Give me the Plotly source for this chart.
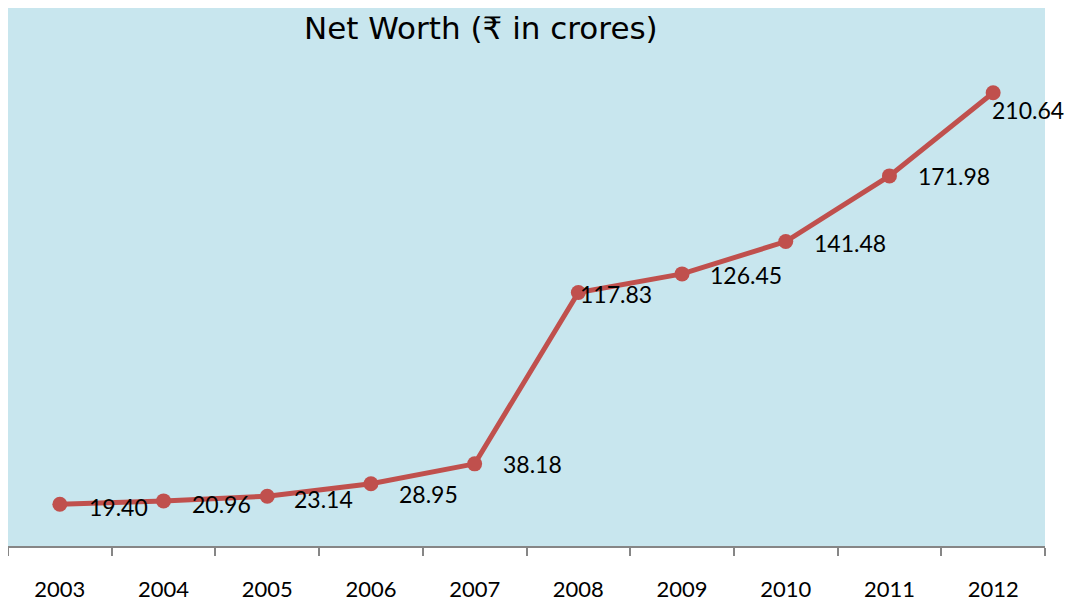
import plotly.graph_objects as go

years = ["2003", "2004", "2005", "2006", "2007", "2008", "2009", "2010", "2011", "2012"]
net_worth = [19.40, 20.96, 23.14, 28.95, 38.18, 117.83, 126.45, 141.48, 171.98, 210.64]

# label offsets (px) relative to each point, to mimic the original placement
label_dx = [27, 26, 25, 26, 26, 0, 26, 26, 27, -3]
label_dy = [-3, -3, -3, -10, 0, -2, -1, -1, 0, -17]

red = "#c0504d"

fig = go.Figure()
fig.add_trace(go.Scatter(
    x=years,
    y=net_worth,
    mode="lines+markers",
    line=dict(color=red, width=5),
    marker=dict(color=red, size=15),
    hoverinfo="x+y",
    showlegend=False,
))

# category axis: annotation x is the category index
for i, (v, dx, dy) in enumerate(zip(net_worth, label_dx, label_dy)):
    fig.add_annotation(
        x=i, y=v, text="%.2f" % v, showarrow=False,
        xanchor="left", yanchor="middle", xshift=dx, yshift=dy,
        font=dict(family="Lato, Open Sans, sans-serif", size=23, color="#000000"),
    )

fig.add_annotation(
    text="Net Worth (₹ in crores)", xref="paper", yref="paper",
    x=0.456, y=0.963, xanchor="center", yanchor="middle", showarrow=False,
    font=dict(family="DejaVu Sans, Verdana, sans-serif", size=31, color="#000000"),
)

fig.update_layout(
    width=1067,
    height=594,
    margin=dict(l=0, r=30, t=0, b=56),
    paper_bgcolor="#ffffff",
    plot_bgcolor="#c8e6ee",
    xaxis=dict(
        type="category",
        range=[-0.5, 9.5],
        tickson="boundaries",
        ticks="outside",
        ticklen=8,
        tickwidth=2,
        tickcolor="#868686",
        showline=True,
        linecolor="#868686",
        linewidth=2,
        showgrid=False,
        zeroline=False,
        ticklabelstandoff=23,
        tickfont=dict(family="Lato, Open Sans, sans-serif", size=22, color="#000000"),
        automargin=False,
        fixedrange=True,
    ),
    yaxis=dict(
        range=[0, 250],
        visible=False,
        showgrid=False,
        zeroline=False,
        fixedrange=True,
    ),
)

fig.write_html("out.html")
